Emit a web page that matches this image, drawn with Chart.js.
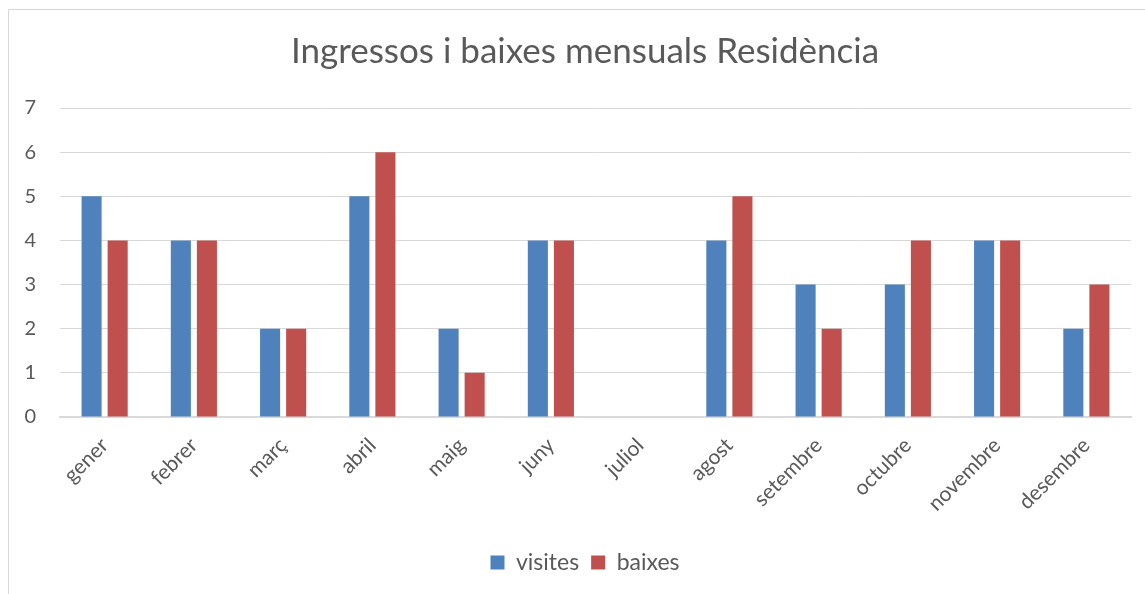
<!DOCTYPE html>
<html>
<head>
<meta charset="utf-8">
<script src="https://cdn.jsdelivr.net/npm/chart.js@4.4.0/dist/chart.umd.min.js"></script>
<style>
  body { margin: 0; background: #fff; overflow: hidden; }
  #frame { position: absolute; left: 8px; top: 9px; width: 1150px; height: 600px; border: 1px solid #d9d9d9; }
  #wrap { position: absolute; left: 8px; top: 0; width: 1154px; height: 594px; }
</style>
</head>
<body>
<div id="frame"></div>
<div id="wrap"><canvas id="mycanvas"></canvas></div>
<script>
// months and monthly values
var mesos = ["gener", "febrer", "març", "abril", "maig", "juny", "juliol", "agost", "setembre", "octubre", "novembre", "desembre"];
var visites = [5, 4, 2, 5, 2, 4, 0, 4, 3, 3, 4, 2];
var baixes = [4, 4, 2, 6, 1, 4, 0, 5, 2, 4, 4, 3];
var yTicks = [0, 1, 2, 3, 4, 5, 6, 7];

var fontFam = "Lato, 'Open Sans', sans-serif";
var grey = "#595959";

var chartdata = {
	labels: mesos,
	datasets: [{
		label: 'visites',
		backgroundColor: "#4F81BD",
		borderWidth: 0,
		data: visites
	}, {
		label: 'baixes',
		backgroundColor: "#C0504D",
		borderWidth: 0,
		data: baixes
	}]
};

var ctx = document.getElementById("mycanvas");

var barGraph = new Chart(ctx, {
	type: 'bar',
	data: chartdata,
	options: {
		responsive: true,
		maintainAspectRatio: false,
		animation: false,
		layout: { padding: { left: 0, right: 0, top: 0, bottom: 10 } },
		datasets: {
			bar: { categoryPercentage: 0.584, barPercentage: 0.77 }
		},
		plugins: {
			title: {
				display: true,
				text: 'Ingressos i baixes mensuals Residència',
				color: grey,
				font: { family: fontFam, size: 35, weight: '400' },
				padding: { top: 31, bottom: 35 }
			},
			legend: {
				position: 'bottom',
				labels: {
					color: grey,
					font: { family: fontFam, size: 23 },
					boxWidth: 14,
					boxHeight: 14,
					padding: 12
				}
			},
			tooltip: { enabled: false }
		},
		scales: {
			x: {
				grid: { display: false, drawTicks: false },
				border: { color: "#d9d9d9", width: 2 },
				ticks: {
					color: grey,
					font: { family: fontFam, size: 21 },
					minRotation: 45,
					maxRotation: 45,
					padding: 16
				},
				afterFit: function(scale) { scale.height = 122; }
			},
			y: {
				min: 0,
				max: 7,
				grid: { color: "#d9d9d9", lineWidth: 1, drawTicks: false },
				border: { display: false },
				afterBuildTicks: function(scale) {
					scale.ticks = yTicks.map(function(v) { return { value: v }; });
				},
				ticks: {
					color: grey,
					font: { family: fontFam, size: 20 },
					padding: 24
				},
				afterFit: function(scale) { scale.width = 52; }
			},
			// empty axis on the right, only keeps the plot off the right edge
			yRight: {
				position: 'right',
				min: 0,
				max: 7,
				grid: { display: false, drawTicks: false },
				border: { display: false },
				ticks: { display: false },
				afterFit: function(scale) { scale.width = 31; }
			}
		}
	}
});
</script>
</body>
</html>
